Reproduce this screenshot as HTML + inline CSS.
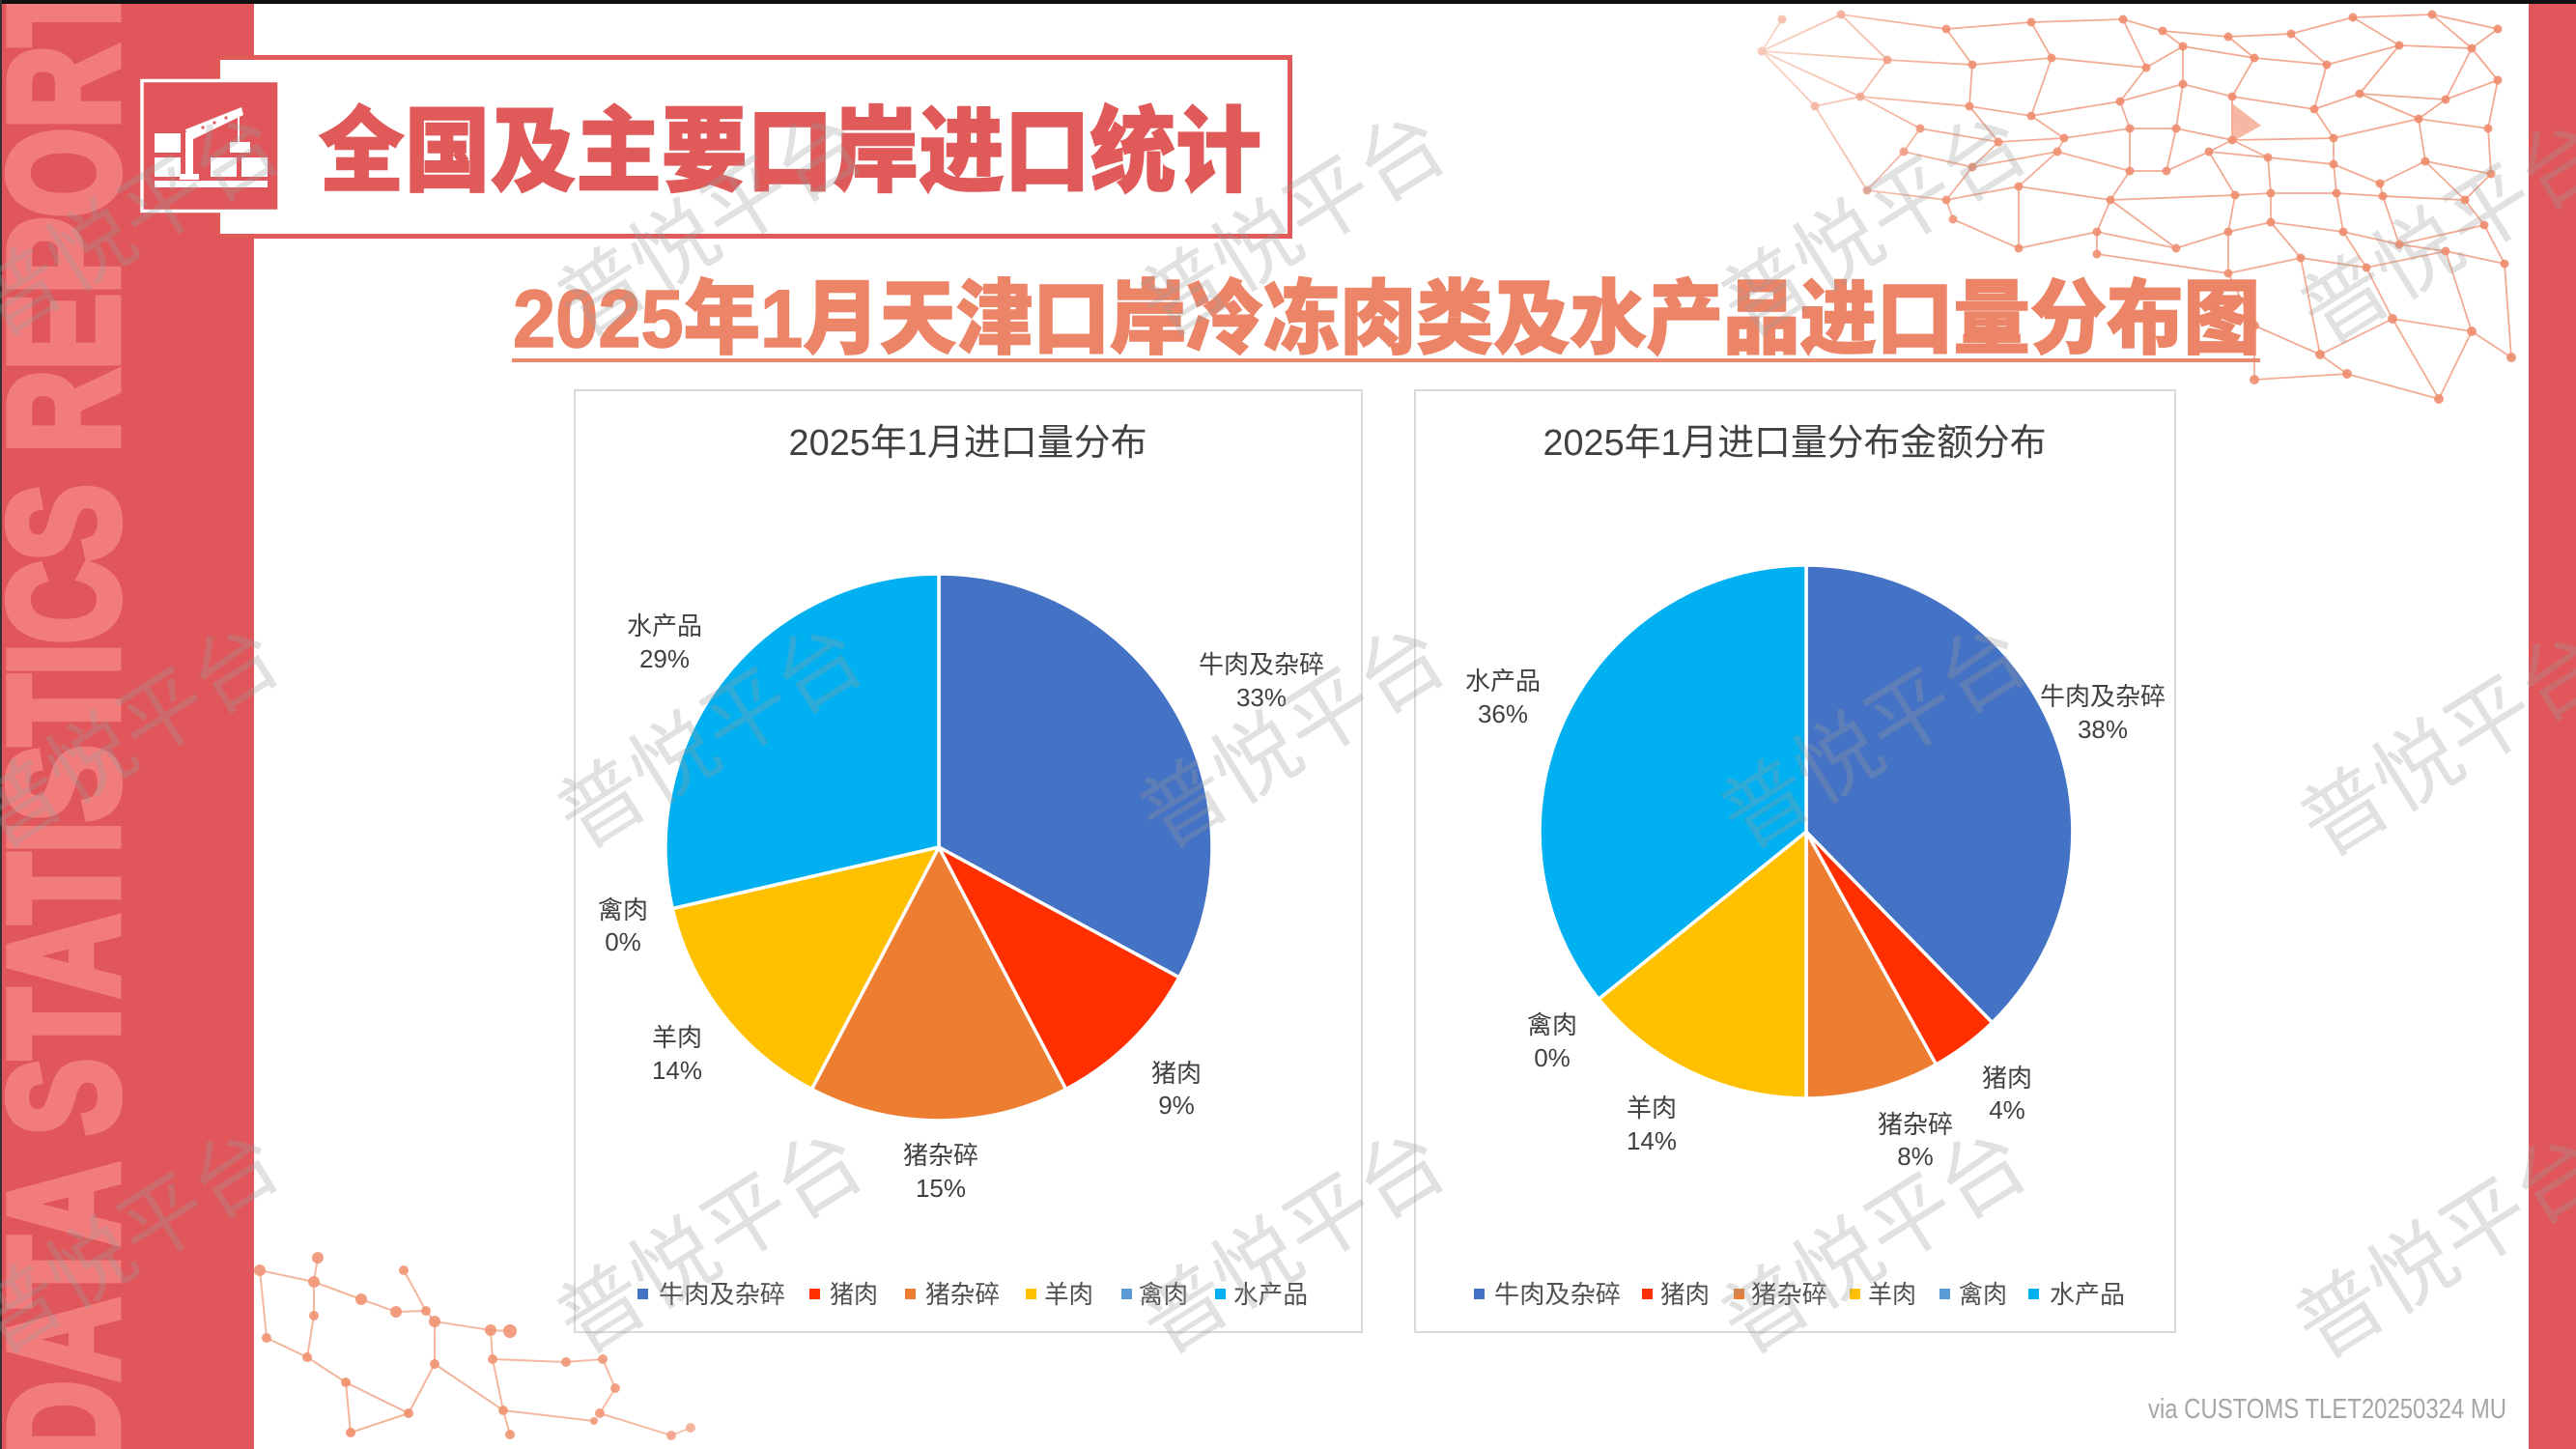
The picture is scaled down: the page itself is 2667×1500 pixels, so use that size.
<!DOCTYPE html>
<html>
<head>
<meta charset="utf-8">
<style>
html,body{margin:0;padding:0;background:#fff;}
svg{display:block;}
</style>
</head>
<body>
<svg width="2667" height="1500" viewBox="0 0 2667 1500" xmlns="http://www.w3.org/2000/svg" font-family="'Liberation Sans','Noto Sans CJK SC',sans-serif">
<defs>
  <radialGradient id="fadeTR" gradientUnits="userSpaceOnUse" cx="2520" cy="40" r="860">
    <stop offset="0" stop-color="#fff" stop-opacity="1"/>
    <stop offset="0.6" stop-color="#fff" stop-opacity="0.95"/>
    <stop offset="1" stop-color="#fff" stop-opacity="0.1"/>
  </radialGradient>
  <mask id="mTR" maskUnits="userSpaceOnUse" x="1700" y="0" width="967" height="480">
    <rect x="1700" y="0" width="967" height="480" fill="url(#fadeTR)"/>
  </mask>
  <radialGradient id="fadeBL" gradientUnits="userSpaceOnUse" cx="380" cy="1480" r="460">
    <stop offset="0" stop-color="#fff" stop-opacity="1"/>
    <stop offset="0.65" stop-color="#fff" stop-opacity="0.9"/>
    <stop offset="1" stop-color="#fff" stop-opacity="0.1"/>
  </radialGradient>
  <mask id="mBL" maskUnits="userSpaceOnUse" x="200" y="1250" width="600" height="250">
    <rect x="200" y="1250" width="600" height="250" fill="url(#fadeBL)"/>
  </mask>
</defs>

<!-- background -->
<rect x="0" y="0" width="2667" height="1500" fill="#ffffff"/>

<!-- top-right network decoration -->
<g mask="url(#mTR)">
  <g fill="none" stroke="#f09a7c" stroke-width="1.8" stroke-opacity="0.85">
    <polyline points="1906,15 2015,30 2103,23 2198,20 2239,32 2307,38 2372,35 2436,18 2518,15 2586,30"/>
    <polyline points="1824,53 1954,62 2042,67 2124,60 2222,70 2260,48 2334,60 2409,67 2484,47 2559,50"/>
    <polyline points="1926,100 2039,110 2103,120 2195,105 2260,87 2311,100 2396,113 2443,97 2532,103 2586,83"/>
    <polyline points="1988,133 2069,147 2137,143 2205,133 2253,133 2311,145 2416,143 2504,123 2576,133"/>
    <polyline points="1971,157 2042,173 2130,157 2205,177 2243,177 2287,157 2348,163 2416,170 2464,190 2511,167 2579,180"/>
    <polyline points="1933,197 2015,207 2090,193 2185,207 2314,202 2351,200 2419,200 2467,203 2552,207"/>
    <polyline points="2022,227 2090,257 2171,240 2253,257 2307,240 2351,230 2426,240 2484,253 2572,233"/>
    <polyline points="2171,263 2307,283 2382,267 2450,277 2532,260 2593,273"/>
    <polyline points="2334,337 2402,367 2477,330 2559,343 2600,370"/>
    <polyline points="2334,393 2430,387 2525,413"/>
    <path d="M1906,15L1954,62M2015,30L2042,67M2103,23L2124,60M2198,20L2222,70M2239,32L2260,48M2307,38L2334,60M2372,35L2409,67M2436,18L2484,47M2518,15L2559,50M2586,30L2559,50M1906,15L1824,53
             M1824,53L1926,100M1954,62L1926,100M2042,67L2039,110M2124,60L2103,120M2222,70L2195,105M2260,48L2260,87M2334,60L2311,100M2409,67L2396,113M2484,47L2443,97M2559,50L2532,103M2559,50L2586,83
             M1926,100L1988,133M2039,110L2069,147M2103,120L2137,143M2195,105L2205,133M2260,87L2253,133M2311,100L2311,145M2396,113L2416,143M2443,97L2504,123M2532,103L2504,123M2586,83L2576,133
             M1988,133L1971,157M2069,147L2042,173M2137,143L2130,157M2205,133L2205,177M2253,133L2243,177M2311,145L2287,157M2311,145L2348,163M2416,143L2416,170M2504,123L2511,167M2576,133L2579,180
             M1971,157L1933,197M2042,173L2015,207M2130,157L2090,193M2205,177L2185,207M2287,157L2314,202M2348,163L2351,200M2416,170L2419,200M2464,190L2467,203M2511,167L2552,207M2579,180L2552,207
             M2015,207L2022,227M2090,193L2090,257M2185,207L2171,240M2314,202L2307,240M2351,200L2351,230M2419,200L2426,240M2467,203L2484,253M2552,207L2572,233M2185,207L2253,257
             M2171,240L2171,263M2307,240L2307,283M2351,230L2382,267M2426,240L2450,277M2484,253L2532,260M2572,233L2593,273
             M2307,283L2334,337M2382,267L2402,367M2450,277L2477,330M2532,260L2559,343M2593,273L2600,370
             M2334,337L2334,393M2402,367L2430,387M2477,330L2525,413M2559,343L2525,413
             M1824,53L1845,20M1824,53L1879,110M1879,110L1926,100M1879,110L1933,197"/>
  </g>
  <polygon points="2311,107 2341,130 2311,147" fill="#f4a589" fill-opacity="0.8"/>
  <g fill="#ee8a6a" fill-opacity="0.9">
    <circle cx="1906" cy="15" r="4.5"/><circle cx="2015" cy="30" r="4.5"/><circle cx="2103" cy="23" r="4.5"/><circle cx="2198" cy="20" r="4.5"/><circle cx="2239" cy="32" r="4.5"/><circle cx="2307" cy="38" r="4.5"/><circle cx="2372" cy="35" r="4.5"/><circle cx="2436" cy="18" r="4.5"/><circle cx="2518" cy="15" r="4.5"/><circle cx="2586" cy="30" r="4.5"/>
    <circle cx="1824" cy="53" r="4.5"/><circle cx="1954" cy="62" r="4.5"/><circle cx="2042" cy="67" r="4.5"/><circle cx="2124" cy="60" r="4.5"/><circle cx="2222" cy="70" r="4.5"/><circle cx="2260" cy="48" r="4.5"/><circle cx="2334" cy="60" r="4.5"/><circle cx="2409" cy="67" r="4.5"/><circle cx="2484" cy="47" r="4.5"/><circle cx="2559" cy="50" r="4.5"/>
    <circle cx="1926" cy="100" r="4.5"/><circle cx="2039" cy="110" r="4.5"/><circle cx="2103" cy="120" r="4.5"/><circle cx="2195" cy="105" r="4.5"/><circle cx="2260" cy="87" r="4.5"/><circle cx="2311" cy="100" r="4.5"/><circle cx="2396" cy="113" r="4.5"/><circle cx="2443" cy="97" r="4.5"/><circle cx="2532" cy="103" r="4.5"/><circle cx="2586" cy="83" r="4.5"/>
    <circle cx="1988" cy="133" r="4.5"/><circle cx="2069" cy="147" r="4.5"/><circle cx="2137" cy="143" r="4.5"/><circle cx="2205" cy="133" r="4.5"/><circle cx="2253" cy="133" r="4.5"/><circle cx="2311" cy="145" r="4.5"/><circle cx="2416" cy="143" r="4.5"/><circle cx="2504" cy="123" r="4.5"/><circle cx="2576" cy="133" r="4.5"/>
    <circle cx="1971" cy="157" r="4.5"/><circle cx="2042" cy="173" r="4.5"/><circle cx="2130" cy="157" r="4.5"/><circle cx="2205" cy="177" r="4.5"/><circle cx="2243" cy="177" r="4.5"/><circle cx="2287" cy="157" r="4.5"/><circle cx="2348" cy="163" r="4.5"/><circle cx="2416" cy="170" r="4.5"/><circle cx="2464" cy="190" r="4.5"/><circle cx="2511" cy="167" r="4.5"/><circle cx="2579" cy="180" r="4.5"/>
    <circle cx="1933" cy="197" r="4.5"/><circle cx="2015" cy="207" r="4.5"/><circle cx="2090" cy="193" r="4.5"/><circle cx="2185" cy="207" r="4.5"/><circle cx="2314" cy="202" r="4.5"/><circle cx="2351" cy="200" r="4.5"/><circle cx="2419" cy="200" r="4.5"/><circle cx="2467" cy="203" r="4.5"/><circle cx="2552" cy="207" r="4.5"/>
    <circle cx="2022" cy="227" r="4.5"/><circle cx="2090" cy="257" r="4.5"/><circle cx="2171" cy="240" r="4.5"/><circle cx="2253" cy="257" r="4.5"/><circle cx="2307" cy="240" r="4.5"/><circle cx="2351" cy="230" r="4.5"/><circle cx="2426" cy="240" r="4.5"/><circle cx="2484" cy="253" r="4.5"/><circle cx="2572" cy="233" r="4.5"/>
    <circle cx="2171" cy="263" r="4.5"/><circle cx="2307" cy="283" r="4.5"/><circle cx="2382" cy="267" r="4.5"/><circle cx="2450" cy="277" r="4.5"/><circle cx="2532" cy="260" r="4.5"/><circle cx="2593" cy="273" r="4.5"/>
    <circle cx="2334" cy="337" r="5"/><circle cx="2402" cy="367" r="5"/><circle cx="2477" cy="330" r="5"/><circle cx="2559" cy="343" r="5"/><circle cx="2600" cy="370" r="5"/>
    <circle cx="2334" cy="393" r="5"/><circle cx="2430" cy="387" r="5"/><circle cx="2525" cy="413" r="5"/><circle cx="1879" cy="110" r="4.5"/><circle cx="1845" cy="20" r="4.5"/>
  </g>
</g>

<!-- bottom-left network decoration -->
<g mask="url(#mBL)">
  <path fill="none" stroke="#f0a080" stroke-width="2" stroke-opacity="0.8"
    d="M329,1302L325,1327L325,1362M269,1315L325,1327L374,1345L410,1358L441,1357L450,1368L508,1377L528,1378
       M276,1385L318,1405L358,1431L423,1463M318,1405L325,1362M450,1368L450,1412L423,1463M450,1412L521,1460
       M508,1377L510,1407L521,1460L528,1485M510,1407L586,1410L624,1407L637,1437L621,1463L695,1486L715,1478
       M358,1431L363,1483M423,1463L363,1483M521,1460L615,1471M269,1315L276,1385M418,1315L441,1357"/>
  <g fill="#ef8e6c" fill-opacity="0.9">
    <circle cx="329" cy="1302" r="6"/><circle cx="325" cy="1327" r="6"/><circle cx="325" cy="1362" r="5"/><circle cx="269" cy="1315" r="6"/><circle cx="374" cy="1345" r="6"/><circle cx="410" cy="1358" r="6"/><circle cx="441" cy="1357" r="5"/><circle cx="450" cy="1368" r="6"/><circle cx="508" cy="1377" r="6"/><circle cx="528" cy="1378" r="7"/>
    <circle cx="276" cy="1385" r="5"/><circle cx="318" cy="1405" r="5"/><circle cx="358" cy="1431" r="5"/><circle cx="423" cy="1463" r="5"/><circle cx="450" cy="1412" r="5"/><circle cx="510" cy="1407" r="5"/><circle cx="521" cy="1460" r="5"/><circle cx="586" cy="1410" r="5"/><circle cx="624" cy="1407" r="5"/><circle cx="637" cy="1437" r="5"/><circle cx="621" cy="1463" r="5"/><circle cx="615" cy="1471" r="4"/><circle cx="695" cy="1486" r="5"/><circle cx="715" cy="1478" r="5"/><circle cx="363" cy="1483" r="5"/><circle cx="528" cy="1485" r="5"/><circle cx="418" cy="1315" r="5"/>
  </g>
</g>

<!-- left sidebar -->
<rect x="0" y="0" width="263" height="1500" fill="#e0565a"/>
<text transform="translate(121,1515) rotate(-90)" font-family="'Liberation Sans',sans-serif" font-weight="bold" font-size="160" fill="#f27c7c" stroke="#f27c7c" stroke-width="9" stroke-linejoin="miter" textLength="1540" lengthAdjust="spacingAndGlyphs">DATA STATISTICS REPORT</text>
<!-- right sidebar -->
<rect x="2618" y="0" width="49" height="1500" fill="#e0565a"/>
<!-- top black line and left edge -->
<rect x="0" y="0" width="2667" height="4" fill="#111"/>
<rect x="0" y="0" width="2" height="1500" fill="#333"/>

<!-- header box -->
<rect x="225.5" y="59.5" width="1110" height="185" fill="#ffffff" stroke="#e05a5a" stroke-width="5"/>
<!-- icon -->
<rect x="147" y="83.5" width="142" height="135" fill="#e0565a" stroke="#ffffff" stroke-width="3.5"/>
<g fill="#ffffff">
  <rect x="160" y="138" width="27" height="20"/>
  <rect x="160" y="163" width="27" height="20"/>
  <rect x="192" y="137" width="8" height="48"/>
  <rect x="186" y="180" width="20" height="6"/>
  <polygon points="192,134 250,111 252,119 196,146"/>
  <rect x="246" y="119" width="2" height="28"/>
  <rect x="238" y="147" width="21" height="11"/>
  <rect x="218" y="163" width="27" height="20"/>
  <rect x="250" y="163" width="27" height="20"/>
  <rect x="160" y="187" width="117" height="7"/>
</g>
<g fill="#e0565a"><circle cx="210" cy="132" r="1.6"/><circle cx="222" cy="127" r="1.6"/><circle cx="234" cy="122" r="1.6"/></g>
<text x="330" y="190" font-family="'Liberation Sans','Noto Sans CJK SC',sans-serif" font-weight="900" font-size="96" fill="#e05a5a" stroke="#e05a5a" stroke-width="1.5" textLength="976" lengthAdjust="spacingAndGlyphs">全国及主要口岸进口统计</text>

<!-- main title -->
<text x="531" y="359" font-family="'Liberation Sans','Noto Sans CJK SC',sans-serif" font-weight="900" font-size="84" fill="#ec8468" stroke="#ec8468" stroke-width="1.5" textLength="1809" lengthAdjust="spacingAndGlyphs">2025年1月天津口岸冷冻肉类及水产品进口量分布图</text>
<rect x="530" y="371" width="1810" height="4" fill="#ea8a6e"/>

<!-- left chart -->
<rect x="595" y="404" width="815" height="975" fill="#ffffff" stroke="#d9d9d9" stroke-width="2"/>
<text x="1002" y="471" text-anchor="middle" font-size="38" fill="#404040" textLength="371" lengthAdjust="spacingAndGlyphs">2025年1月进口量分布</text>
<g stroke="#ffffff" stroke-width="3.5" stroke-linejoin="round">
  <path d="M972,877 L972,594 A283,283 0 0 1 1220.8,1011.8 Z" fill="#4472c4"/>
  <path d="M972,877 L1220.8,1011.8 A283,283 0 0 1 1103.6,1127.5 Z" fill="#ff2f00"/>
  <path d="M972,877 L1103.6,1127.5 A283,283 0 0 1 840.4,1127.5 Z" fill="#ed7d31"/>
  <path d="M972,877 L840.4,1127.5 A283,283 0 0 1 696.2,940.5 Z" fill="#ffc000"/>
  <path d="M972,877 L696.2,940.5 A283,283 0 0 1 972,594 Z" fill="#00b0f0"/>
</g>
<g font-size="26" fill="#404040" text-anchor="middle">
  <text x="1306" y="697">牛肉及杂碎</text><text x="1306" y="731">33%</text>
  <text x="1218" y="1120">猪肉</text><text x="1218" y="1153">9%</text>
  <text x="974" y="1205">猪杂碎</text><text x="974" y="1239">15%</text>
  <text x="701" y="1083">羊肉</text><text x="701" y="1117">14%</text>
  <text x="645" y="951">禽肉</text><text x="645" y="984">0%</text>
  <text x="688" y="657">水产品</text><text x="688" y="691">29%</text>
</g>
<g>
  <rect x="660" y="1334" width="11" height="11" fill="#4472c4"/>
  <rect x="838" y="1334" width="11" height="11" fill="#ff2f00"/>
  <rect x="937" y="1334" width="11" height="11" fill="#ed7d31"/>
  <rect x="1062" y="1334" width="11" height="11" fill="#ffc000"/>
  <rect x="1161" y="1334" width="11" height="11" fill="#5b9bd5"/>
  <rect x="1258" y="1334" width="11" height="11" fill="#00b0f0"/>
</g>
<g font-size="26" fill="#505050">
  <text x="682" y="1349" textLength="131" lengthAdjust="spacingAndGlyphs">牛肉及杂碎</text>
  <text x="859" y="1349" textLength="50" lengthAdjust="spacingAndGlyphs">猪肉</text>
  <text x="958" y="1349" textLength="77" lengthAdjust="spacingAndGlyphs">猪杂碎</text>
  <text x="1081" y="1349" textLength="51" lengthAdjust="spacingAndGlyphs">羊肉</text>
  <text x="1179" y="1349" textLength="51" lengthAdjust="spacingAndGlyphs">禽肉</text>
  <text x="1277" y="1349" textLength="77" lengthAdjust="spacingAndGlyphs">水产品</text>
</g>

<!-- right chart -->
<rect x="1465" y="404" width="787" height="975" fill="#ffffff" stroke="#d9d9d9" stroke-width="2"/>
<text x="1858" y="471" text-anchor="middle" font-size="38" fill="#404040" textLength="521" lengthAdjust="spacingAndGlyphs">2025年1月进口量分布金额分布</text>
<g stroke="#ffffff" stroke-width="3.5" stroke-linejoin="round">
  <path d="M1870,861 L1870,585 A276,276 0 0 1 2062.6,1058.6 Z" fill="#4472c4"/>
  <path d="M1870,861 L2062.6,1058.6 A276,276 0 0 1 2004.5,1102 Z" fill="#ff2f00"/>
  <path d="M1870,861 L2004.5,1102 A276,276 0 0 1 1870,1137 Z" fill="#ed7d31"/>
  <path d="M1870,861 L1870,1137 A276,276 0 0 1 1655.1,1034.2 Z" fill="#ffc000"/>
  <path d="M1870,861 L1655.1,1034.2 A276,276 0 0 1 1870,585 Z" fill="#00b0f0"/>
</g>
<g font-size="26" fill="#404040" text-anchor="middle">
  <text x="2177" y="730">牛肉及杂碎</text><text x="2177" y="764">38%</text>
  <text x="2078" y="1125">猪肉</text><text x="2078" y="1158">4%</text>
  <text x="1983" y="1173">猪杂碎</text><text x="1983" y="1206">8%</text>
  <text x="1710" y="1156">羊肉</text><text x="1710" y="1190">14%</text>
  <text x="1607" y="1070">禽肉</text><text x="1607" y="1104">0%</text>
  <text x="1556" y="714">水产品</text><text x="1556" y="748">36%</text>
</g>
<g>
  <rect x="1526" y="1334" width="11" height="11" fill="#4472c4"/>
  <rect x="1700" y="1334" width="11" height="11" fill="#ff2f00"/>
  <rect x="1795" y="1334" width="11" height="11" fill="#ed7d31"/>
  <rect x="1915" y="1334" width="11" height="11" fill="#ffc000"/>
  <rect x="2008" y="1334" width="11" height="11" fill="#5b9bd5"/>
  <rect x="2100" y="1334" width="11" height="11" fill="#00b0f0"/>
</g>
<g font-size="26" fill="#505050">
  <text x="1547" y="1349" textLength="131" lengthAdjust="spacingAndGlyphs">牛肉及杂碎</text>
  <text x="1719" y="1349" textLength="51" lengthAdjust="spacingAndGlyphs">猪肉</text>
  <text x="1813" y="1349" textLength="79" lengthAdjust="spacingAndGlyphs">猪杂碎</text>
  <text x="1934" y="1349" textLength="50" lengthAdjust="spacingAndGlyphs">羊肉</text>
  <text x="2028" y="1349" textLength="50" lengthAdjust="spacingAndGlyphs">禽肉</text>
  <text x="2122" y="1349" textLength="78" lengthAdjust="spacingAndGlyphs">水产品</text>
</g>

<!-- footer -->
<text x="2224" y="1468" font-size="29" fill="#a6a6a6" textLength="371" lengthAdjust="spacingAndGlyphs">via CUSTOMS TLET20250324 MU</text>

<!-- watermarks -->
<g font-size="88" fill="#9a9a9a" fill-opacity="0.3" text-anchor="middle">
  <g transform="translate(131,232) rotate(-32)"><text x="0" y="31">普悦平台</text></g>
  <g transform="translate(735,232) rotate(-32)"><text x="0" y="31">普悦平台</text></g>
  <g transform="translate(1338,232) rotate(-32)"><text x="0" y="31">普悦平台</text></g>
  <g transform="translate(1940,232) rotate(-32)"><text x="0" y="31">普悦平台</text></g>
  <g transform="translate(2540,240) rotate(-32)"><text x="0" y="31">普悦平台</text></g>
  <g transform="translate(131,762) rotate(-32)"><text x="0" y="31">普悦平台</text></g>
  <g transform="translate(735,762) rotate(-32)"><text x="0" y="31">普悦平台</text></g>
  <g transform="translate(1338,762) rotate(-32)"><text x="0" y="31">普悦平台</text></g>
  <g transform="translate(1940,762) rotate(-32)"><text x="0" y="31">普悦平台</text></g>
  <g transform="translate(2540,770) rotate(-32)"><text x="0" y="31">普悦平台</text></g>
  <g transform="translate(131,1285) rotate(-32)"><text x="0" y="31">普悦平台</text></g>
  <g transform="translate(735,1285) rotate(-32)"><text x="0" y="31">普悦平台</text></g>
  <g transform="translate(1338,1285) rotate(-32)"><text x="0" y="31">普悦平台</text></g>
  <g transform="translate(1940,1285) rotate(-32)"><text x="0" y="31">普悦平台</text></g>
  <g transform="translate(2535,1290) rotate(-32)"><text x="0" y="31">普悦平台</text></g>
</g>
</svg>
</body>
</html>
